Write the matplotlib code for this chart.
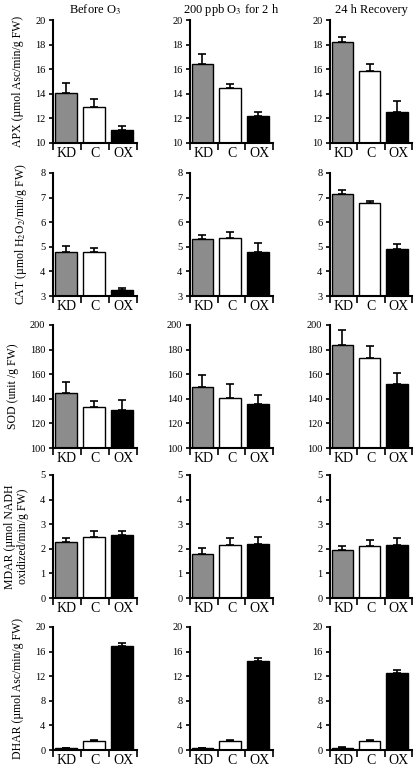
import numpy as np
import matplotlib
matplotlib.use('Agg')
import matplotlib.pyplot as plt

plt.rcParams['font.family'] = ['Liberation Serif', 'DejaVu Serif']
plt.rcParams['mathtext.fontset'] = 'stix'

# Data
groups = ['KD', 'C', 'OX']
titles = ['Before O$_3$', '200 ppb O$_3$ for 2 h', '24 h Recovery']
ylabels = ['APX (µmol Asc/min/g FW)',
           'CAT (µmol H$_2$O$_2$/min/g FW)',
           'SOD (unit /g FW)',
           'MDAR (µmol NADH\noxidized/min/g FW)',
           'DHAR (µmol Asc/min/g FW)']

apx_mean = [[14.1, 12.9, 11.05], [16.45, 14.45, 12.2], [18.25, 15.85, 12.5]]
apx_err = [[0.8, 0.7, 0.35], [0.75, 0.35, 0.35], [0.35, 0.55, 0.9]]
cat_mean = [[4.77, 4.8, 3.25], [5.3, 5.35, 4.8], [7.15, 6.77, 4.92]]
cat_err = [[0.25, 0.17, 0.08], [0.2, 0.25, 0.35], [0.15, 0.08, 0.18]]
sod_mean = [[145, 133, 131], [150, 141, 136], [184, 173, 152]]
sod_err = [[9, 5, 8], [9, 11, 7], [12, 10, 9]]
mdar_mean = [[2.27, 2.5, 2.57], [1.8, 2.15, 2.2], [1.97, 2.12, 2.15]]
mdar_err = [[0.18, 0.23, 0.16], [0.22, 0.3, 0.27], [0.15, 0.25, 0.27]]
dhar_mean = [[0.3, 1.45, 16.85], [0.3, 1.45, 14.4], [0.35, 1.45, 12.6]]
dhar_err = [[0.1, 0.1, 0.55], [0.1, 0.15, 0.55], [0.1, 0.2, 0.4]]

means = [apx_mean, cat_mean, sod_mean, mdar_mean, dhar_mean]
errs = [apx_err, cat_err, sod_err, mdar_err, dhar_err]
ylims = [(10, 20), (3, 8), (100, 200), (0, 5), (0, 20)]
yticks = [np.arange(10, 21, 2), np.arange(3, 9, 1), np.arange(100, 201, 20),
          np.arange(0, 6, 1), np.arange(0, 21, 4)]

bar_colors = ['#8c8c8c', 'white', 'black']

W, H = 416, 769
fig = plt.figure(figsize=(W / 100, H / 100), dpi=100)

col_left = [53, 190, 330]
col_width = [84, 83, 82]
row_top = [20, 173, 325, 475, 627]
row_h = 123

x = np.arange(3)
for r in range(5):
    for c in range(3):
        ax = fig.add_axes([col_left[c] / W, 1 - (row_top[r] + row_h) / H,
                           col_width[c] / W, row_h / H])
        m = means[r][c]
        e = errs[r][c]
        lo = ylims[r][0]
        ax.bar(x - 0.05, np.array(m) - lo, bottom=lo, width=0.78,
               color=bar_colors, edgecolor='black', linewidth=1.0, zorder=2)
        ax.errorbar(x - 0.05, m, yerr=[np.zeros(3), e], fmt='none',
                    ecolor='black', elinewidth=1.2, capsize=3,
                    capthick=1.2, zorder=3)
        ax.set_xlim(-0.5, 2.5)
        ax.set_ylim(*ylims[r])
        ax.set_yticks(yticks[r])
        ax.set_xticks(x)
        ax.set_xticklabels(groups, fontsize=10)
        ax.set_xticks([-0.5, 0.5, 1.5, 2.5], minor=True)
        ax.tick_params(axis='x', which='major', length=0, pad=3)
        ax.tick_params(axis='x', which='minor', length=5, width=1.2,
                       direction='out')
        ax.tick_params(axis='y', length=3, width=1.2, labelsize=7.5, pad=2.5)
        for s in ['top', 'right']:
            ax.spines[s].set_visible(False)
        for s in ['left', 'bottom']:
            ax.spines[s].set_linewidth(1.5)
        if r == 0:
            ax.set_title(titles[c], fontsize=9, pad=5)
        if c == 0:
            ax.set_ylabel(ylabels[r], fontsize=8.5, labelpad=8,
                          linespacing=1.1)

fig.savefig('out.png', dpi=100)
